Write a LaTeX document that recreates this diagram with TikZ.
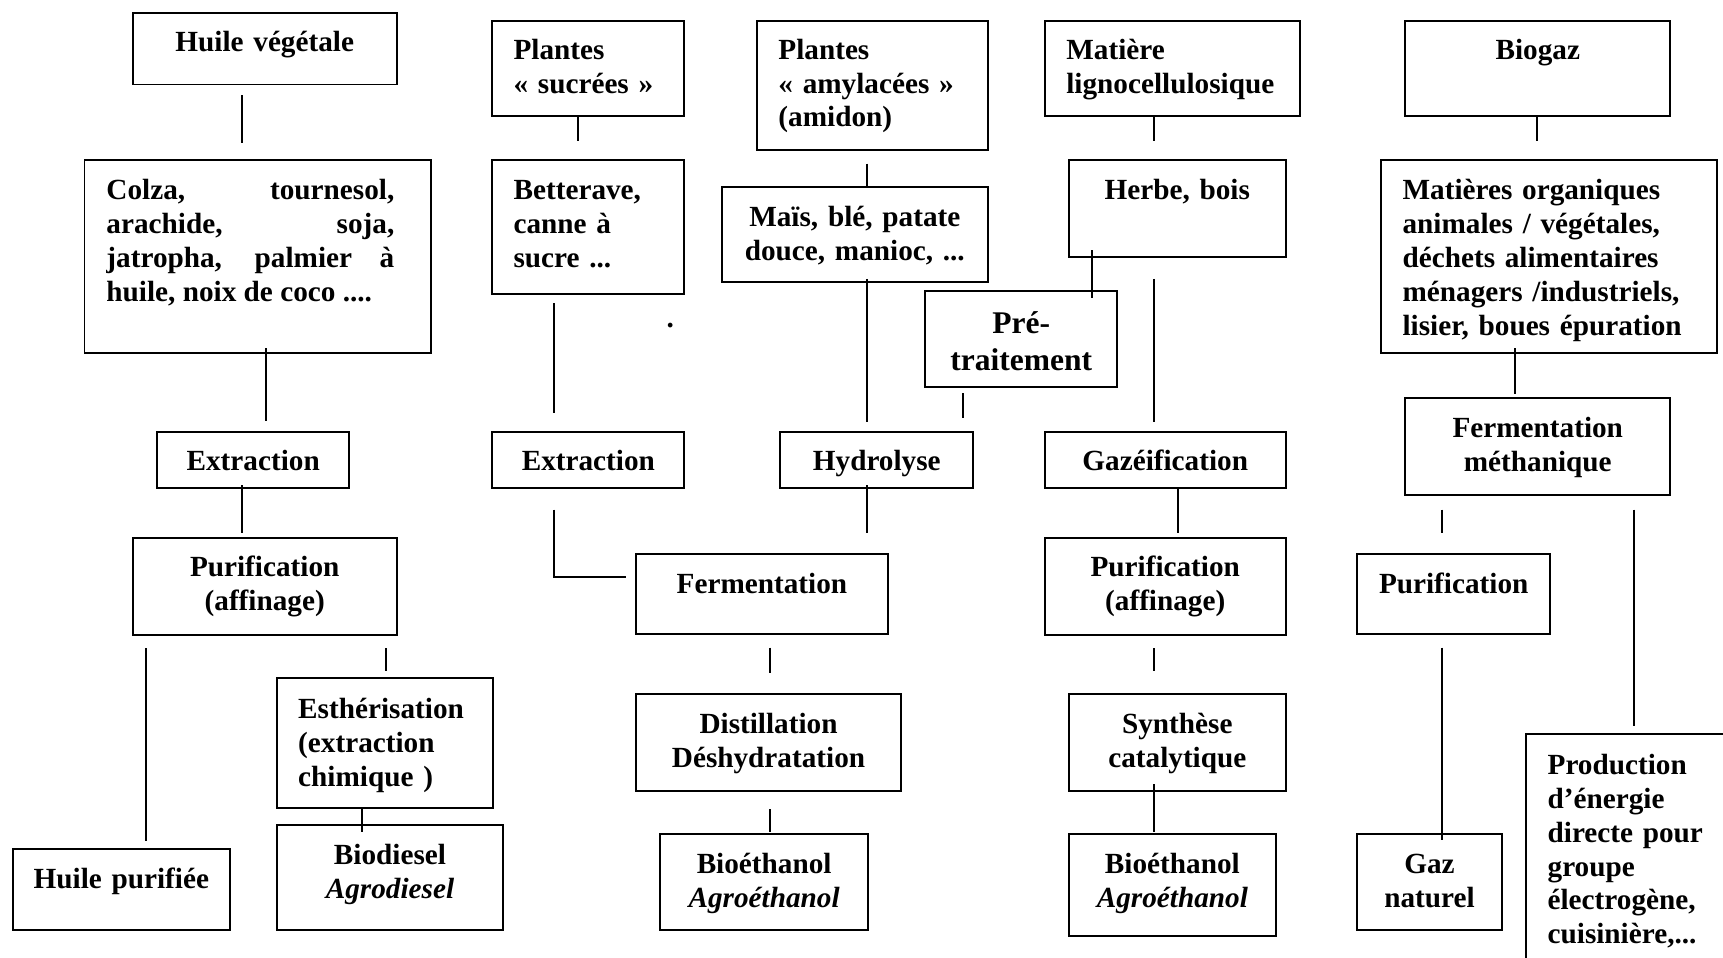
\documentclass[tikz,border=0pt]{standalone}
\usepackage{fontspec}
\setmainfont{Liberation Serif}
\usetikzlibrary{calc}
\hyphenpenalty=10000
\exhyphenpenalty=10000

\begin{document}
\begin{tikzpicture}[x=0.5pt, y=-0.5pt, line width=0.9pt,
  box/.style={draw, line width=0.9pt, anchor=north west, inner xsep=3pt, inner ysep=0pt,
    align=center, font=\fontsize{13.3}{15.4}\selectfont\bfseries},
  lbox/.style={box, inner xsep=9.75pt, align=left}]
  \useasboundingbox (0,0) rectangle (1568,871);
  \clip (0,0) rectangle (1568,871);

  % huile vegetale
  \node[box, text width=114pt, text height=17.5pt, text depth=15pt] (hv) at (120,11) {Huile végétale};
  \node[box, align=left, inner xsep=10pt, text height=18pt, text depth=69.5pt] (colza) at (76,145)
    {\parbox[t]{131pt}{Colza, tournesol,\linebreak arachide, soja,\linebreak jatropha, palmier à\linebreak huile, noix de coco ....}\hspace*{6.5pt}};
  \node[box, text width=81.5pt, text height=17.5pt, text depth=8pt] (extL) at (142,392) {Extraction};
  \node[box, text width=114pt, text height=17.5pt, text depth=26.5pt] (purL) at (120,489) {Purification\\(affinage)};
  \node[lbox, text width=79pt, text height=18.5pt, text depth=40.5pt] (esth) at (251,616) {Esthérisation\\(extraction\\chimique )};
  \node[box, text width=97pt, text height=18pt, text depth=29.5pt] (biod) at (251,750) {Biodiesel\\\textit{Agrodiesel}};
  \node[box, text width=92.5pt, text height=18pt, text depth=18.5pt] (hpur) at (11,772) {Huile purifiée};

  % plantes sucrees
  \node[lbox, text width=68pt, text height=17.5pt, text depth=26pt] (psuc) at (447,18) {Plantes\\«~sucrées~»};
  \node[lbox, text width=68pt, text height=18pt, text depth=43pt] (bett) at (447,145) {Betterave,\\canne à\\sucre ...};
  \node[box, text width=81.5pt, text height=17.5pt, text depth=8pt] (extM) at (447,392) {Extraction};
  \node[font=\fontsize{13.3}{15.4}\selectfont\bfseries, inner sep=0pt] (dot) at (610,296) {.};
  \node[box, text width=108.5pt, text height=18pt, text depth=18.75pt] (ferm) at (578,503) {Fermentation};
  \node[box, text width=114.5pt, text height=18pt, text depth=25.75pt] (dist) at (578,631) {Distillation\\Déshydratation};
  \node[box, text width=88.5pt, text height=18pt, text depth=25.75pt] (bioM) at (600,758) {Bioéthanol\\\textit{Agroéthanol}};

  % plantes amylacees
  \node[lbox, text width=85.5pt, text height=17.5pt, text depth=41.5pt] (pamy) at (688,18) {Plantes\\«~amylacées~»\\(amidon)};
  \node[box, text width=115pt, text height=18pt, text depth=25.5pt] (mais) at (656,169) {Maïs, blé, patate\\douce, manioc, ...};
  \node[box, text width=82pt, text height=17.5pt, text depth=8pt] (hydr) at (709,392) {Hydrolyse};
  \node[box, text width=81.5pt, text height=19.5pt, text depth=24pt, font=\fontsize{14.35}{16.5}\selectfont\bfseries] (pret) at (841,264) {Pré-\\traitement};

  % lignocellulose
  \node[lbox, text width=96.5pt, text height=17.5pt, text depth=26pt] (mlig) at (950,18) {Matière\\lignocellulosique};
  \node[box, text width=92.5pt, text height=18pt, text depth=26pt] (herb) at (972,145) {Herbe, bois};
  \node[box, text width=103.5pt, text height=17.5pt, text depth=8pt] (gaz) at (950,392) {Gazéification};
  \node[box, text width=103.5pt, text height=17.5pt, text depth=26.5pt] (purR) at (950,489) {Purification\\(affinage)};
  \node[box, text width=92.5pt, text height=18pt, text depth=25.75pt] (synt) at (972,631) {Synthèse\\catalytique};
  \node[box, text width=88pt, text height=18pt, text depth=28.5pt] (bioR) at (972,758) {Bioéthanol\\\textit{Agroéthanol}};

  % biogaz
  \node[box, text width=114.5pt, text height=17.5pt, text depth=26pt] (biog) at (1278,18) {Biogaz};
  \node[lbox, text width=133.5pt, text height=18pt, text depth=69.5pt] (morg) at (1256,145) {Matières organiques\\animales / végétales,\\déchets alimentaires\\ménagers /industriels,\\lisier, boues épuration};
  \node[box, text width=114.5pt, text height=18pt, text depth=26.25pt] (fmet) at (1278,361) {Fermentation\\méthanique};
  \node[box, text width=82pt, text height=18pt, text depth=18.75pt] (purG) at (1234,503) {Purification};
  \node[box, text width=60pt, text height=18pt, text depth=25.75pt] (gazn) at (1234,758) {Gaz\\naturel};
  \node[lbox, text width=90.5pt, text height=18.5pt, text depth=110pt] (prod) at (1388,667) {Production\\d’énergie\\directe pour\\groupe\\électrogène,\\cuisinière,...};

  % connectors
  \draw ($(hv.south west)+(100,9)$) -- ($(colza.north west)+(144,-15)$);
  \draw ($(colza.south west)+(166,-5)$) -- ($(extL.north west)+(100,-9)$);
  \draw ($(extL.south west)+(78,-3)$) -- ($(purL.north west)+(100,-4)$);
  \draw ($(purL.south west)+(13,11)$) -- ($(hpur.north west)+(122,-7)$);
  \draw ($(purL.south west)+(231,11)$) -- ($(esth.north west)+(100,-5)$);
  \draw ($(esth.south west)+(78,0)$) -- ($(biod.north west)+(78,7)$);
  \draw ($(psuc.south west)+(79,0)$) -- ($(bett.north west)+(79,-17)$);
  \draw ($(bett.south west)+(57,7)$) -- ($(extM.north west)+(57,-16)$);
  \draw ($(extM.south west)+(57,19)$) |- ($(ferm.north west)+(-8,22)$);
  \draw ($(ferm.south west)+(123,11)$) -- ($(dist.north west)+(123,-19)$);
  \draw ($(dist.south west)+(123,16)$) -- ($(bioM.north west)+(101,-1)$);
  \draw ($(pamy.south west)+(101,11)$) -- ($(mais.north west)+(133,2)$);
  \draw ($(mais.south west)+(133,-4)$) -- ($(hydr.north west)+(80,-8)$);
  \draw ($(hydr.south west)+(80,-3)$) -- ($(ferm.north west)+(211,-18)$);
  \draw ($(pret.south west)+(35,5)$) -- ($(hydr.north west)+(167,-12)$);
  \draw ($(herb.south west)+(22,-7)$) -- ($(pret.north west)+(153,7)$);
  \draw ($(mlig.south west)+(100,0)$) -- ($(herb.north west)+(78,-17)$);
  \draw ($(herb.south west)+(78,19)$) -- ($(gaz.north west)+(100,-8)$);
  \draw ($(gaz.south west)+(122,0)$) -- ($(purR.north west)+(122,-4)$);
  \draw ($(purR.south west)+(100,11)$) -- ($(synt.north west)+(78,-20)$);
  \draw ($(synt.south west)+(78,-6.5)$) -- ($(bioR.north west)+(78,-1)$);
  \draw ($(biog.south west)+(121,0)$) -- ($(morg.north west)+(143,-17)$);
  \draw ($(morg.south west)+(123,-5)$) -- ($(fmet.north west)+(101,-2)$);
  \draw ($(fmet.south west)+(34,12.5)$) -- ($(purG.north west)+(78,-18)$);
  \draw ($(fmet.south west)+(209,12.5)$) -- ($(prod.north west)+(99,-6)$);
  \draw ($(purG.south west)+(78,11)$) -- ($(gazn.north west)+(78,6)$);
\end{tikzpicture}
\end{document}
